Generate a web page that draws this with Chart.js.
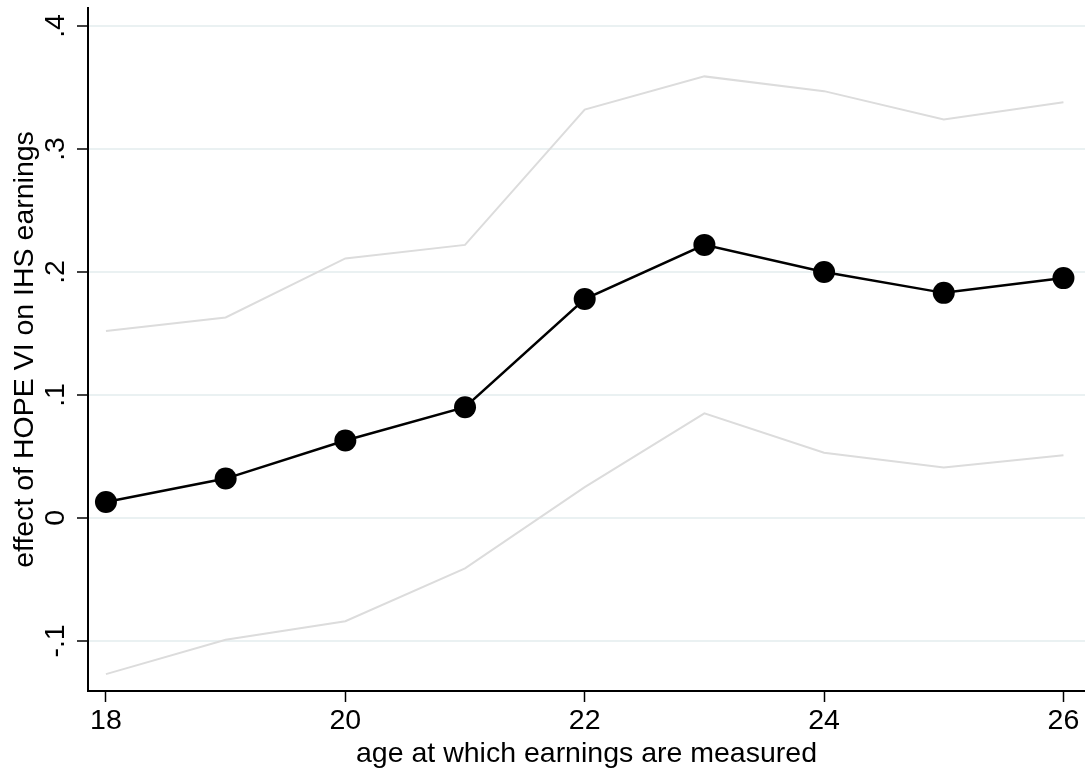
<!DOCTYPE html>
<html>
<head>
<meta charset="utf-8">
<script src="https://cdn.jsdelivr.net/npm/chart.js@4"></script>
<style>
  body { margin: 0; background: #fff; }
</style>
</head>
<body>
<canvas id="chart" width="1085" height="771"></canvas>
<script>
// --- Data ---
const ages = [18, 19, 20, 21, 22, 23, 24, 25, 26];
const effect = [0.013, 0.032, 0.063, 0.090, 0.178, 0.222, 0.200, 0.183, 0.195];
const upperCI = [0.152, 0.163, 0.211, 0.222, 0.332, 0.359, 0.347, 0.324, 0.338];
const lowerCI = [-0.127, -0.099, -0.084, -0.041, 0.025, 0.085, 0.053, 0.041, 0.051];
const xTicks = [18, 20, 22, 24, 26];
const yTicks = [-0.1, 0, 0.1, 0.2, 0.3, 0.4];
const yTickLabels = ['-.1', '0', '.1', '.2', '.3', '.4'];

const FONT = 'Liberation Sans, Arial, Helvetica, sans-serif';
const FONT_SIZE = 28.5;

const toPoints = vals => ages.map((a, i) => ({ x: a, y: vals[i] }));

// y tick labels are rotated like Stata's, drawn centred on each tick
const rotatedYLabels = {
    id: 'rotatedYLabels',
    afterDraw(chart) {
        const ctx = chart.ctx;
        const yScale = chart.scales.y;
        ctx.save();
        ctx.fillStyle = '#000';
        ctx.font = `${FONT_SIZE}px ${FONT}`;
        ctx.textAlign = 'center';
        ctx.textBaseline = 'middle';
        yTicks.forEach((v, i) => {
            const y = yScale.getPixelForValue(v);
            ctx.save();
            ctx.translate(yScale.right - 33, y);
            ctx.rotate(-Math.PI / 2);
            ctx.fillText(yTickLabels[i], 0, 1);
            ctx.restore();
        });
        ctx.restore();
    }
};

new Chart(document.getElementById('chart'), {
    type: 'line',
    data: {
        datasets: [
            {
                label: 'upper',
                data: toPoints(upperCI),
                borderColor: '#dcdcdc',
                borderWidth: 2,
                pointRadius: 0,
                tension: 0,
                order: 2
            },
            {
                label: 'lower',
                data: toPoints(lowerCI),
                borderColor: '#dcdcdc',
                borderWidth: 2,
                pointRadius: 0,
                tension: 0,
                order: 2
            },
            {
                label: 'effect',
                data: toPoints(effect),
                borderColor: '#000',
                borderWidth: 2.5,
                pointRadius: 11,
                pointBackgroundColor: '#000',
                pointBorderWidth: 0,
                tension: 0,
                order: 1
            }
        ]
    },
    options: {
        responsive: false,
        animation: false,
        layout: { autoPadding: false, padding: { top: 8, right: 0, left: 0, bottom: 0 } },
        plugins: { legend: { display: false }, tooltip: { enabled: false } },
        scales: {
            x: {
                type: 'linear',
                min: 17.85,
                max: 26.18,
                afterBuildTicks: axis => { axis.ticks = xTicks.map(v => ({ value: v })); },
                afterFit: axis => { axis.height = 80; axis.paddingLeft = 0; axis.paddingRight = 0; },
                border: { display: true, color: '#000', width: 2 },
                grid: { drawOnChartArea: false, tickLength: 11, tickColor: '#000', tickWidth: 1.5 },
                ticks: {
                    color: '#000',
                    font: { family: FONT, size: FONT_SIZE },
                    padding: 2,
                    maxRotation: 0,
                    autoSkip: false
                },
                title: {
                    display: true,
                    text: 'age at which earnings are measured',
                    color: '#000',
                    font: { family: FONT, size: FONT_SIZE },
                    padding: { top: 0, bottom: 0 }
                }
            },
            y: {
                type: 'linear',
                min: -0.1407,
                max: 0.4146,
                afterBuildTicks: axis => { axis.ticks = yTicks.map(v => ({ value: v })); },
                afterFit: axis => { axis.width = 88; axis.paddingTop = 0; axis.paddingBottom = 0; },
                border: { display: true, color: '#000', width: 2 },
                grid: { color: '#eaf1f2', lineWidth: 2, tickLength: 11, tickColor: '#000', tickWidth: 1.5 },
                ticks: { display: false, autoSkip: false },
                title: {
                    display: true,
                    text: 'effect of HOPE VI on IHS earnings',
                    color: '#000',
                    font: { family: FONT, size: FONT_SIZE },
                    padding: { top: 8, bottom: 0 }
                }
            }
        }
    },
    plugins: [rotatedYLabels]
});
</script>
</body>
</html>
